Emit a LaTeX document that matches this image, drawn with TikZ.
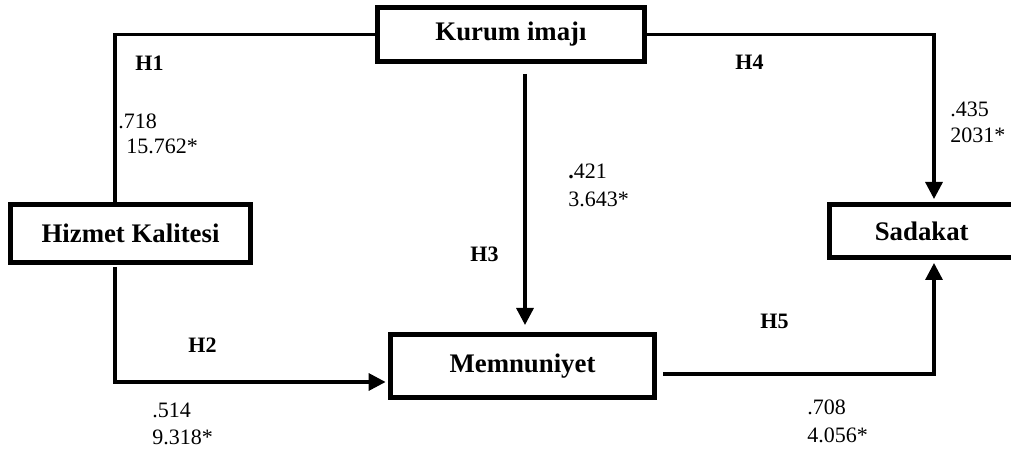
\documentclass[tikz,border=0pt]{standalone}
\usepackage{fontspec}
\setmainfont{Liberation Serif}
\usetikzlibrary{arrows.meta}
\newcommand\bxfont{\fontsize{13.4}{15}\selectfont\bfseries}
\newcommand\nmfont{\fontsize{11}{13}\selectfont}
\tikzset{
  box/.style={draw, line width=2.5pt, font=\bxfont, inner sep=0pt},
  conn/.style={line width=1.65pt},
  arr/.style={conn, -{Triangle[length=8.5pt,width=8.5pt]}},
  num/.style={anchor=base west, inner sep=0pt, font=\nmfont},
  hyp/.style={anchor=base west, inner sep=0pt, font=\nmfont\bfseries}
}
\begin{document}
\begin{tikzpicture}[x=0.5pt,y=-0.5pt]
\useasboundingbox (0,0) rectangle (1011,453);
% boxes
\node[box, minimum width=133.5pt, minimum height=27pt] (K) at (511,34.5) {Kurum imajı};
\node[box, minimum width=120pt, minimum height=29pt] (H) at (130.5,233.5) {Hizmet Kalitesi};
\node[box, minimum width=92.25pt, minimum height=26.5pt, text width=92.25pt, align=center] (S) at (921.75,231) {Sadakat};
\node[box, minimum width=132pt, minimum height=31.5pt] (M) at (522.5,366) {Memnuniyet};
% coordinates
\coordinate (c1) at (115,34.5);
\coordinate (c2) at (934,34.5);
\coordinate (c3) at (525,74);
\coordinate (c4) at (115,382);
\coordinate (c5) at (934,374);
\coordinate (c6) at (663,374);
% connectors
\draw[conn] (K.west) -- (c1) -- (c1 |- H.north);
\draw[arr, shorten >=1.5pt] (K.east) -- (c2) -- (c2 |- S.north);
\draw[arr, shorten >=3.5pt] (c3) -- (c3 |- M.north);
\draw[arr, shorten >=1.2pt] ([yshift=-1pt]c4 |- H.south) -- (c4) -- (c4 -| M.west);
\draw[arr, shorten >=1.5pt] (c6) -- (c5) -- (c5 |- S.south);
% labels
\node[hyp] (h1) at (135,71) {H1};
\node[num] (n1a) at (118,129) {.718};
\node[num] (n1b) at (126,154) {15.762*};
\node[hyp] (h4) at (735,70) {H4};
\node[num] (n4a) at (950,117) {.435};
\node[num] (n4b) at (950,143) {2031*};
\node[num] (n3a) at (568,179) {\textbf{.}421};
\node[num] (n3b) at (568,207) {3.643*};
\node[hyp] (h3) at (470,262) {H3};
\node[hyp] (h2) at (188,353) {H2};
\node[num] (n2a) at (152,418) {.514};
\node[num] (n2b) at (152,445) {9.318*};
\node[hyp] (h5) at (760,329) {H5};
\node[num] (n5a) at (807,415) {.708};
\node[num] (n5b) at (807,443) {4.056*};
\end{tikzpicture}
\end{document}
